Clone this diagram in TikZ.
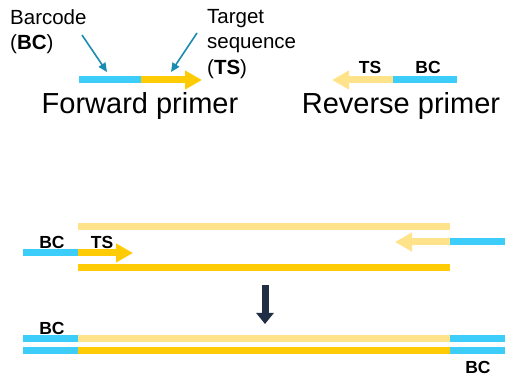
\documentclass[tikz,border=0pt]{standalone}
\usepackage{xcolor}
\usepackage{fontspec}
\setmainfont{Liberation Sans}
\usepackage{tikz}
\usetikzlibrary{arrows.meta}

\definecolor{bccol}{HTML}{3CCDFB}
\definecolor{tscol}{HTML}{FFCB05}
\definecolor{tslight}{HTML}{FFE38A}
\definecolor{pointcol}{HTML}{1A8CB0}
\definecolor{downcol}{HTML}{1F2D45}

\begin{document}
\begin{tikzpicture}[x=1pt,y=-1pt]

	\tikzstyle{bar} = [line width=7pt]
	\tikzstyle{primer} = [bar,-{Triangle[length=17pt,width=18pt]}]
	\tikzstyle{lbl} = [inner sep=0pt,font=\fontsize{17.5}{20}\selectfont\bfseries]
	\tikzstyle{note} = [inner sep=0pt,align=left,anchor=north west,font=\fontsize{20.5}{25.5}\selectfont]
	\tikzstyle{title} = [inner sep=0pt,font=\fontsize{29}{32}\selectfont]
	\tikzstyle{pointer} = [pointcol,line width=1.6pt,-{Triangle[length=9pt,width=8pt]}]

	\useasboundingbox (0,0) rectangle (512,382);

	% forward primer
	\node[note] (bclabel) at (10,9) {Barcode\\(\textbf{BC})};
	\node[note] (tslabel) at (207,9) {Target\\sequence\\(\textbf{TS})};
	\draw[bar,bccol] (79,80) -- (141,80);
	\draw[primer,tscol] (141,80) -- (202,80);
	\coordinate (bcstart) at (82,35);
	\coordinate (bcend) at (107,72);
	\coordinate (tsstart) at (197,33);
	\coordinate (tsend) at (171,72);
	\draw[pointer] (bcstart) -- (bcend);
	\draw[pointer] (tsstart) -- (tsend);
	\node[title] (fwd) at (140,106) {Forward primer};

	% reverse primer
	\draw[bar,bccol] (457,80) -- (393,80);
	\draw[primer,tslight] (393,80) -- (332,80);
	\node[lbl] (revts) at (370,67) {TS};
	\node[lbl] (revbc) at (428,67) {BC};
	\node[title] (rev) at (401,106) {Reverse primer};

	% annealing
	\draw[bar,tslight] (78,227) -- (450,227);
	\draw[bar,bccol] (23,253) -- (78,253);
	\draw[primer,tscol] (78,253) -- (133,253);
	\node[lbl] (annbc) at (52,242) {BC};
	\node[lbl] (annts) at (102,242) {TS};
	\draw[bar,bccol] (505,242) -- (450,242);
	\draw[primer,tslight] (450,242) -- (395,242);
	\draw[bar,tscol] (78,268) -- (450,268);

	\draw[downcol,line width=7pt,-{Triangle[length=11pt,width=17pt]}] (265,285) -- (265,324);

	% product
	\draw[bar,bccol] (23,339) -- (78,339);
	\draw[bar,tslight] (78,339) -- (450,339);
	\draw[bar,bccol] (450,339) -- (505,339);
	\draw[bar,bccol] (23,351) -- (78,351);
	\draw[bar,tscol] (78,351) -- (450,351);
	\draw[bar,bccol] (450,351) -- (505,351);
	\node[lbl] (prodbc) at (52,328) {BC};
	\node[lbl] (prodbc2) at (478,367) {BC};

\end{tikzpicture}
\end{document}
